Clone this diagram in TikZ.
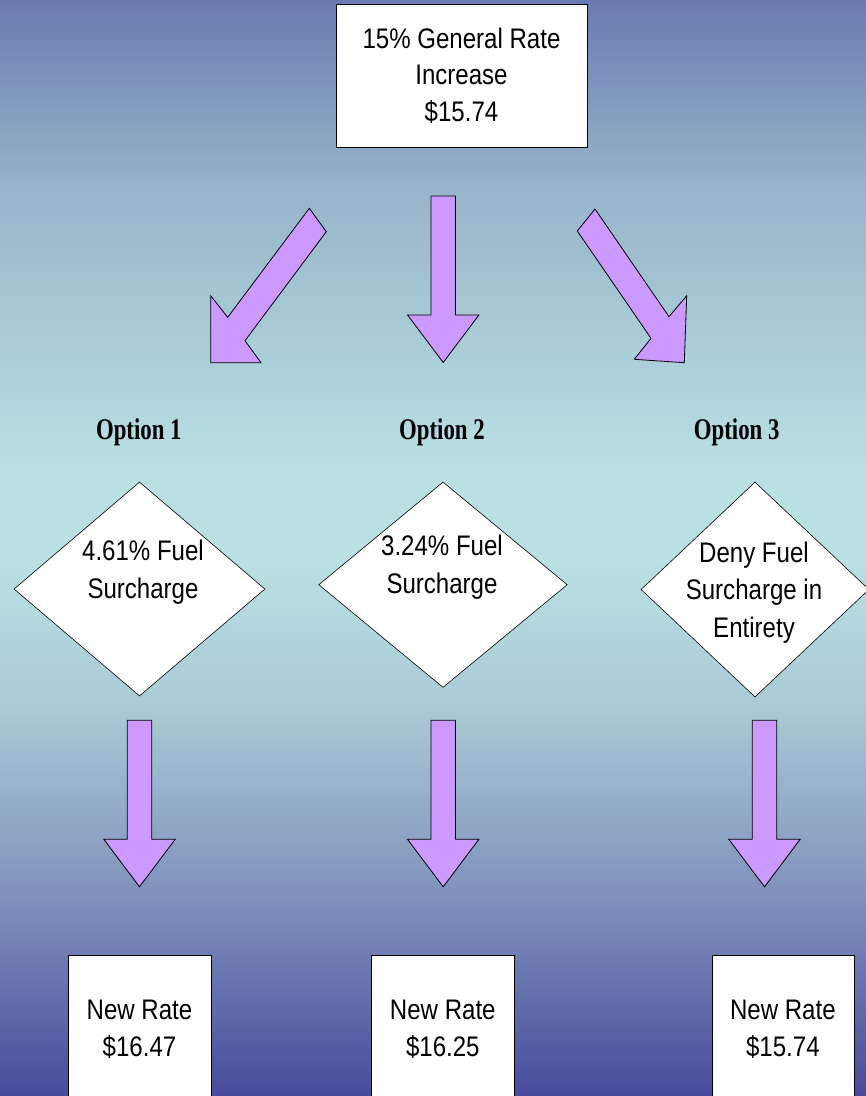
\documentclass[tikz,border=0pt]{standalone}
\usepackage{fontspec}
\setmainfont{Liberation Sans}[FakeStretch=0.85]
\newfontfamily\optfont{Liberation Serif}[FakeStretch=0.76]
\usetikzlibrary{shapes.geometric}

\definecolor{bgA}{HTML}{6A7BB2}
\definecolor{bgB}{HTML}{97B5CA}
\definecolor{bgC}{HTML}{B9E0E3}
\definecolor{bgD}{HTML}{A8C9D5}
\definecolor{bgE}{HTML}{7E90BC}
\definecolor{bgF}{HTML}{484B9C}
\definecolor{arrowfill}{HTML}{CC99FF}

\tikzset{
  ratebox/.style={rectangle, draw=black, fill=white, line width=0.8pt, align=center,
    inner sep=0pt, font=\fontsize{28.3}{36.5}\selectfont},
  choice/.style={diamond, draw=black, fill=white, line width=0.6pt, inner sep=0pt},
  choicetext/.style={align=center, anchor=base, font=\fontsize{28.3}{37.5}\selectfont},
  optlabel/.style={anchor=base, font=\optfont\bfseries\fontsize{30}{30}\selectfont},
  blockarrow/.style={draw=black, fill=arrowfill, line width=0.8pt},
}

% block arrow pointing down: centre x, top y
\newcommand{\downblock}[2]{%
  \draw[blockarrow] (#1-12.2,#2) -- (#1+12.2,#2) -- (#1+12.2,#2+119) -- (#1+35.7,#2+119)
    -- (#1,#2+166.5) -- (#1-35.7,#2+119) -- (#1-12.2,#2+119) -- cycle;}

\begin{document}
\begin{tikzpicture}[x=1pt, y=-1pt]
  \clip (0,0) rectangle (866,1096);

  % background
  \shade[top color=bgA, bottom color=bgB] (0,0) rectangle (866,191);
  \shade[top color=bgB, bottom color=bgC] (0,190) rectangle (866,471);
  \fill[bgC] (0,470) rectangle (866,561);
  \shade[top color=bgC, bottom color=bgD] (0,560) rectangle (866,711);
  \shade[top color=bgD, bottom color=bgE] (0,710) rectangle (866,901);
  \shade[top color=bgE, bottom color=bgF] (0,900) rectangle (866,1096);

  \node[ratebox, minimum width=251pt, minimum height=143pt] (start) at (461.5,75.5)
    {15\% General Rate\\Increase\\\$15.74};

  % arrows to the options
  \draw[blockarrow] (309.3,208.3) -- (326.3,231.7) -- (245,340.7) -- (261,362.7)
    -- (210.7,362.7) -- (210.7,295.7) -- (227.7,317.3) -- cycle;
  \downblock{443.2}{196}
  \draw[blockarrow] (595,209) -- (577.3,231) -- (651,338.3) -- (634.3,359.3)
    -- (684.3,362.7) -- (686.7,295.7) -- (669,316.7) -- cycle;

  \node[optlabel] (opt1) at (138.8,439) {Option 1};
  \node[optlabel] (opt2) at (442,439) {Option 2};
  \node[optlabel] (opt3) at (736.7,439) {Option 3};

  \node[choice, minimum width=251pt, minimum height=214pt] (fuel1) at (139.5,589) {};
  \node[choice, minimum width=248.6pt, minimum height=205.5pt] (fuel2) at (443,584.7) {};
  \node[choice, minimum width=228pt, minimum height=215pt] (fuel3) at (755,589.5) {};
  \node[choicetext] (txt1) at (143,598) {4.61\% Fuel\\Surcharge};
  \node[choicetext] (txt2) at (442,593) {3.24\% Fuel\\Surcharge};
  \node[choicetext] (txt3) at (754,637) {Deny Fuel\\Surcharge in\\Entirety};

  \downblock{139.5}{720.3}
  \downblock{443.2}{720.3}
  \downblock{764.5}{720.3}

  \node[ratebox, minimum width=143pt, minimum height=148pt] (rate1) at (139.5,1029)
    {New Rate\\\$16.47};
  \node[ratebox, minimum width=143pt, minimum height=148pt] (rate2) at (442.8,1029)
    {New Rate\\\$16.25};
  \node[ratebox, minimum width=142pt, minimum height=148pt] (rate3) at (782.9,1029)
    {New Rate\\\$15.74};
\end{tikzpicture}
\end{document}
